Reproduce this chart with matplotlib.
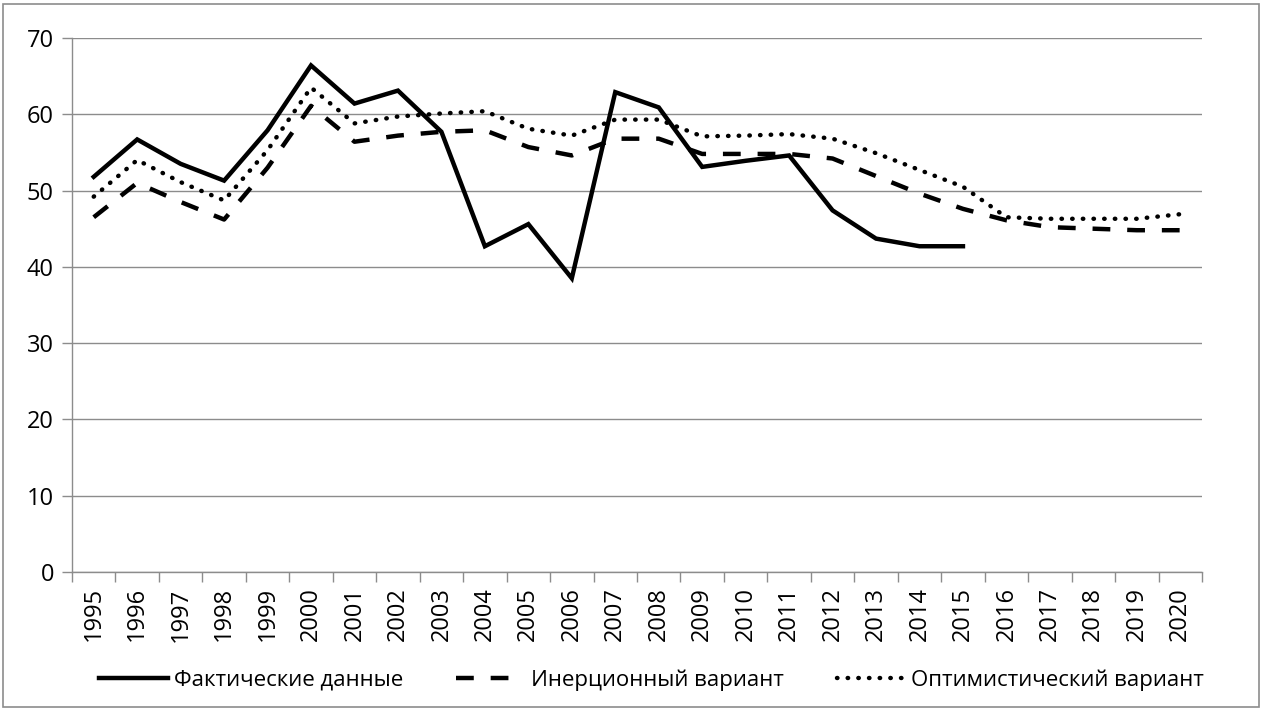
import matplotlib
matplotlib.use("Agg")
import matplotlib.pyplot as plt
from matplotlib.patches import Rectangle

plt.rcParams['font.family'] = ['Open Sans', 'DejaVu Sans']

years = [str(y) for y in range(1995, 2021)]

# фактические данные (1995-2015)
actual = [51.8, 56.7, 53.5, 51.3, 57.9, 66.4, 61.4, 63.1, 57.7, 42.7, 45.6,
          38.5, 62.9, 60.9, 53.1, 53.9, 54.6, 47.4, 43.7, 42.7, 42.7]
# инерционный вариант
inertial = [46.5, 51.0, 48.5, 46.2, 53.0, 61.1, 56.4, 57.2, 57.7, 57.9, 55.7,
            54.6, 56.8, 56.8, 54.8, 54.8, 54.8, 54.2, 51.9, 49.6, 47.6,
            46.1, 45.2, 45.0, 44.8, 44.8]
# оптимистический вариант
optimistic = [49.2, 54.0, 51.1, 48.7, 55.3, 63.5, 58.8, 59.7, 60.1, 60.4, 58.1,
              57.2, 59.3, 59.3, 57.1, 57.2, 57.4, 56.8, 54.9, 52.7, 50.5,
              46.5, 46.3, 46.3, 46.3, 46.9]

labels = ["Фактические данные", "Инерционный вариант", "Оптимистический вариант"]

fig = plt.figure(figsize=(12.63, 7.11), dpi=100)
ax = fig.add_axes([0.057, 0.1955, 0.8947, 0.7511])

x_all = list(range(len(years)))
ax.plot(x_all[:len(actual)], actual, color="black", lw=3.2, solid_joinstyle="miter",
        label=labels[0])
ax.plot(x_all, inertial, color="black", lw=3.2, linestyle=(0, (4, 3.8)),
        dash_capstyle="butt", label=labels[1])
ax.plot(x_all, optimistic, color="black", lw=3.2, linestyle=(0, (0.1, 2.3)),
        dash_capstyle="round", label=labels[2])

ax.set_xlim(-0.5, len(years) - 0.5)
ax.set_ylim(0, 70)
ax.set_yticks(range(0, 71, 10))
ax.yaxis.grid(True, color="#8c8c8c", lw=1)
ax.set_axisbelow(True)

ax.set_xticks(x_all)
ax.set_xticklabels(years, rotation=90)
ax.set_xticks([i - 0.5 for i in range(len(years) + 1)], minor=True)
ax.tick_params(axis="x", which="major", length=0, pad=11, labelsize=17)
ax.tick_params(axis="x", which="minor", length=7, color="#8c8c8c", width=1)
ax.tick_params(axis="y", length=7, color="#8c8c8c", width=1, labelsize=17, pad=6)

for s in ["top", "right"]:
    ax.spines[s].set_visible(False)
for s in ["left", "bottom"]:
    ax.spines[s].set_color("#8c8c8c")
    ax.spines[s].set_linewidth(1)

fig.legend(loc="lower center", bbox_to_anchor=(0.516, 0.0), ncol=3, frameon=False,
           fontsize=16, handlelength=3.1, handletextpad=0.25, columnspacing=2.4)

fig.patches.append(Rectangle((0.002, 0.005), 0.995, 0.99, transform=fig.transFigure,
                             fill=False, edgecolor="#8c8c8c", lw=1.2))

fig.savefig("out.png", dpi=100)
